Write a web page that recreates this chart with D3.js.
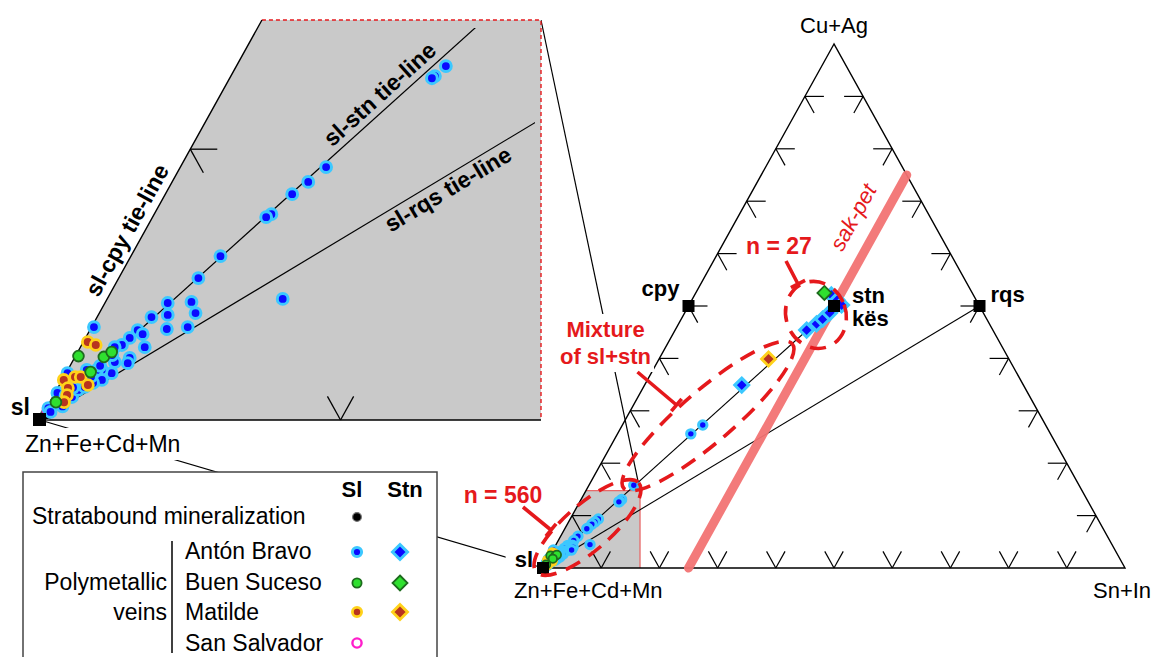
<!DOCTYPE html>
<html>
<head>
<meta charset="utf-8">
<script src="https://cdn.jsdelivr.net/npm/d3@7"></script>
<style>
  body { margin: 0; background: #fff; }
  svg { display: block; font-family: "Liberation Sans", Arial, sans-serif; }
</style>
</head>
<body>
<svg id="chart" width="1155" height="657"></svg>
<script>
// ---- Data: ternary compositions in percent, [Cu+Ag, Sn+In]; Zn+Fe+Cd+Mn is the remainder ----
const apexLabels = ["Cu+Ag", "Zn+Fe+Cd+Mn", "Sn+In"];
const tickValues = [10, 20, 30, 40, 50, 60, 70, 80, 90];

const endmembers = [
  { name: "sl",  cu: 0,  sn: 0 },
  { name: "cpy", cu: 50, sn: 0 },
  { name: "stn", cu: 50, sn: 25 },
  { name: "rqs", cu: 50, sn: 50 }
];

// sakuraiite–petrukite join (constant Sn+In = 25 %)
const sakPet = [[0, 25], [75, 25]];

// Zoomed window around sphalerite: Cu+Ag up to boxCu, horizontal extent up to boxH
const boxCu = 14.77;
const boxH = 16.67;

// Sphalerite analyses
const slAntonBravo = [
  [13.07, 6.97], [12.70, 6.79], [12.62, 6.73],
  [9.34, 4.85], [8.79, 4.53], [8.34, 4.22], [7.60, 3.90], [7.49, 3.78], [6.05, 2.98], [5.24, 2.65],
  [4.47, 5.84],
  [4.32, 2.09], [4.36, 2.86], [3.88, 2.31], [3.95, 3.20], [3.80, 1.81], [3.36, 2.54], [3.43, 3.20],
  [3.32, 1.59], [3.17, 1.83], [2.69, 2.14], [3.03, 1.47], [2.77, 1.34], [2.69, 1.14], [2.29, 1.84],
  [2.10, 1.87], [2.14, 1.42], [1.73, 1.52], [1.85, 1.13], [1.85, 0.97], [1.85, 0.63],
  [3.43, 0.08], [1.73, 0.05], [1.00, 0.08], [0.44, 0.06], [0.85, 0.64], [1.11, 0.71], [1.48, 1.32],
  [1.37, 1.08], [1.22, 0.88], [0.60, 0.30], [0.30, 0.20], [0.90, 0.40], [0.50, 0.50], [1.20, 0.50],
  [1.60, 0.90], [2.00, 1.00], [2.40, 1.20],
  [15.8, 7.7], [25.6, 12.6], [27.3, 13.8]
];
const slBuenSuceso = [[2.36, 0.10], [2.33, 0.96], [2.51, 1.13], [1.77, 0.80], [0.66, 0.20]];
const slMatilde = [
  [2.88, 0.15], [2.77, 0.47], [1.59, 0.37], [1.48, 0.05], [1.59, 0.56],
  [1.18, 0.34], [1.29, 0.95], [0.92, 0.44], [0.66, 0.47]
];
const slSanSalvador = [[0.35, 0.10]];
const slStratabound = [[0.20, 0.10]];

// Stannite analyses
const stnAntonBravo = [
  [34.9, 16.7], [45.4, 22.6], [46.6, 23.7], [47.5, 24.3], [48.7, 24.9],
  [52.1, 23.5], [51.1, 25.0], [50.2, 26.2]
];
const stnBuenSuceso = [[52.5, 22.1]];
const stnMatilde = [[39.9, 18.8]];

// ---- Marker styles ----
const styles = {
  strata:  { fill: "#000000", stroke: "#6a6a6a", sw: 1.4 },
  anton:   { fill: "#0a0aff", stroke: "#3cc8ff", sw: 3 },
  buen:    { fill: "#2fe02f", stroke: "#1d6b1d", sw: 1.8 },
  matilde: { fill: "#b8341f", stroke: "#ffd21a", sw: 2.8 },
  sanSal:  { fill: "#ffffff", stroke: "#ff1ecb", sw: 2.4 }
};
const RED = "#e5191c";

// ---- Scales: main triangle and zoomed inset ----
const hMain = d3.scaleLinear().domain([0, 100]).range([543, 1125]);
const aMain = d3.scaleLinear().domain([0, 100]).range([568, 44]);
const hIn = d3.scaleLinear().domain([0, boxH]).range([40, 541]);
const aIn = d3.scaleLinear().domain([0, boxCu]).range([420, 20]);
const projector = (hs, as) => (cu, sn) => [hs(sn + cu / 2), as(cu)];
const pMain = projector(hMain, aMain);
const pIn = projector(hIn, aIn);
const inBox = d => d[0] <= boxCu && d[1] + d[0] / 2 <= boxH;

const svg = d3.select("#chart");
const line = d3.line();

// ---- Connectors between the inset and the zoomed region ----
const gConn = svg.append("g").attr("stroke", "#000").attr("stroke-width", 1.2).attr("fill", "none");
gConn.append("path").attr("d", line([pIn(boxCu, boxH - boxCu / 2), pMain(boxCu, boxH - boxCu / 2)]));
gConn.append("path").attr("d", line([pIn(0, 0), pMain(0, 0)]));

// ---- Grey window: in the main triangle and enlarged in the inset ----
function windowPoly(p) {
  return [p(0, 0), p(boxCu, 0), p(boxCu, boxH - boxCu / 2), p(0, boxH)];
}
svg.append("path").attr("d", line(windowPoly(pMain)) + "Z").attr("fill", "#c9c9c9");
svg.append("path").attr("d", line([pMain(boxCu, 0), pMain(boxCu, boxH - boxCu / 2), pMain(0, boxH)]))
  .attr("fill", "none").attr("stroke", "#e86a6a").attr("stroke-width", 1.3);

const gInset = svg.append("g");
gInset.append("path").attr("d", line(windowPoly(pIn)) + "Z").attr("fill", "#c9c9c9");
gInset.append("path").attr("d", line([pIn(boxCu, 0), pIn(boxCu, boxH - boxCu / 2), pIn(0, boxH)]))
  .attr("fill", "none").attr("stroke", RED).attr("stroke-width", 1.4).attr("stroke-dasharray", "4,3");
gInset.append("path").attr("d", line([pIn(boxCu, 0), pIn(0, 0), pIn(0, boxH)]))
  .attr("fill", "none").attr("stroke", "#000").attr("stroke-width", 1.4);

// inset tie-lines, clipped a little inside the window
svg.append("clipPath").attr("id", "insetClip").append("rect")
  .attr("x", hIn(0) - 20).attr("y", aIn(boxCu) + 8)
  .attr("width", hIn(boxH) - hIn(0) + 14).attr("height", aIn(0) - aIn(boxCu) - 8 + 20);
const gInTie = gInset.append("g").attr("clip-path", "url(#insetClip)")
  .attr("stroke", "#000").attr("stroke-width", 1.2).attr("fill", "none");
endmembers.filter(e => e.name === "stn" || e.name === "rqs").forEach(e => {
  gInTie.append("path").attr("d", line([pIn(0, 0), pIn(e.cu, e.sn)]));
});

// ---- Main triangle ----
const gTri = svg.append("g").attr("fill", "none").attr("stroke", "#000");
gTri.append("path").attr("d", line([pMain(100, 0), pMain(0, 0), pMain(0, 100)]) + "Z").attr("stroke-width", 1.4);
endmembers.filter(e => e.name === "stn" || e.name === "rqs").forEach(e => {
  gTri.append("path").attr("d", line([pMain(0, 0), pMain(e.cu, e.sn)])).attr("stroke-width", 1.1);
});

// ternary ticks: two short arms pointing along the grid directions
function tickSegments(p, L, leftVals, rightVals, bottomVals) {
  const top = p(100, 0), bl = p(0, 0), br = p(0, 100);
  const unit = (a, b) => { const dx = b[0] - a[0], dy = b[1] - a[1], n = Math.hypot(dx, dy); return [dx / n, dy / n]; };
  const dR = unit(top, br), dL = unit(top, bl);
  const segs = [];
  leftVals.forEach(t => {
    const q = p(t, 0);
    segs.push([q, [q[0] + L, q[1]]], [q, [q[0] + dR[0] * L, q[1] + dR[1] * L]]);
  });
  rightVals.forEach(t => {
    const q = p(t, 100 - t);
    segs.push([q, [q[0] - L, q[1]]], [q, [q[0] + dL[0] * L, q[1] + dL[1] * L]]);
  });
  bottomVals.forEach(t => {
    const q = p(0, t);
    segs.push([q, [q[0] - dR[0] * L, q[1] - dR[1] * L]], [q, [q[0] - dL[0] * L, q[1] - dL[1] * L]]);
  });
  return segs;
}
gTri.selectAll("path.tick").data(tickSegments(pMain, 19, tickValues, tickValues, tickValues))
  .join("path").attr("class", "tick").attr("d", d => line(d)).attr("stroke-width", 1.2);
gInset.append("g").attr("stroke", "#000").attr("fill", "none").attr("stroke-width", 1.3)
  .selectAll("path").data(tickSegments(pIn, 27,
      tickValues.filter(t => t <= boxCu), [], tickValues.filter(t => t <= boxH)))
  .join("path").attr("d", d => line(d));

// ---- sak–pet join ----
svg.append("path").attr("d", line(sakPet.map(d => pMain(d[0], d[1]))))
  .attr("stroke", "#f27373").attr("stroke-width", 9).attr("stroke-linecap", "round")
  .attr("fill", "none").attr("opacity", 0.95);

// ---- Analyses ----
const diamond = s => `M0,${-s}L${s},0L0,${s}L${-s},0Z`;
function drawDots(g, data, st, p, r) {
  g.append("g").selectAll("circle").data(data).join("circle")
    .attr("cx", d => p(d[0], d[1])[0]).attr("cy", d => p(d[0], d[1])[1]).attr("r", r)
    .attr("fill", st.fill).attr("stroke", st.stroke).attr("stroke-width", st.sw);
}
function drawDiamonds(g, data, st, p, s) {
  g.append("g").selectAll("path").data(data).join("path")
    .attr("transform", d => `translate(${p(d[0], d[1])})`).attr("d", diamond(s))
    .attr("fill", st.fill).attr("stroke", st.stroke).attr("stroke-width", st.sw);
}
const slSeries = [
  [slStratabound, styles.strata], [slSanSalvador, styles.sanSal], [slAntonBravo, styles.anton],
  [slMatilde, styles.matilde], [slBuenSuceso, styles.buen]
];
const gPtsMain = svg.append("g");
slSeries.forEach(([data, st]) => drawDots(gPtsMain, data, st, pMain, 4.2));
drawDiamonds(gPtsMain, stnAntonBravo, styles.anton, pMain, 7);
drawDiamonds(gPtsMain, stnMatilde, styles.matilde, pMain, 7);
drawDiamonds(gPtsMain, stnBuenSuceso, styles.buen, pMain, 7);

const gPtsIn = svg.append("g");
slSeries.forEach(([data, st]) => drawDots(gPtsIn, data.filter(inBox), st, pIn, 5.4));

// ---- End-member squares ----
svg.append("g").selectAll("rect").data(endmembers).join("rect")
  .attr("x", d => pMain(d.cu, d.sn)[0] - 6).attr("y", d => pMain(d.cu, d.sn)[1] - 6)
  .attr("width", 12).attr("height", 12).attr("fill", "#000");
svg.append("rect").attr("x", pIn(0, 0)[0] - 7).attr("y", pIn(0, 0)[1] - 7)
  .attr("width", 13).attr("height", 13).attr("fill", "#000");

// ---- Text helpers ----
function txt(g, x, y, s, o = {}) {
  const t = g.append("text").attr("x", x).attr("y", y).text(s)
    .attr("font-size", o.size || 22).attr("fill", o.fill || "#000")
    .attr("text-anchor", o.anchor || "start");
  if (o.bold) t.attr("font-weight", "bold");
  if (o.italic) t.attr("font-style", "italic");
  if (o.rotate != null) t.attr("transform", `rotate(${o.rotate},${x},${y})`);
  return t;
}
function whiteBack(g, t, pad, topLimit, padRight) {
  const b = t.node().getBBox();
  let y0 = b.y - pad;
  if (topLimit != null) y0 = Math.max(y0, topLimit);
  const pr = padRight != null ? padRight : pad;
  g.insert("rect", () => t.node())
    .attr("x", b.x - pad).attr("y", y0).attr("width", b.width + pad + pr)
    .attr("height", b.y + b.height + pad - y0).attr("fill", "#fff");
}

const gLab = svg.append("g");
// main triangle labels
const [topX, topY] = pMain(100, 0);
txt(gLab, topX, topY - 11, apexLabels[0], { anchor: "middle" });
txt(gLab, pMain(0, 0)[0] - 29, pMain(0, 0)[1] + 30, apexLabels[1]);
txt(gLab, pMain(0, 100)[0] - 32, pMain(0, 100)[1] + 30, apexLabels[2]);
const slLab = txt(gLab, pMain(0, 0)[0] - 10, pMain(0, 0)[1] - 1, "sl", { bold: true, anchor: "end" });
whiteBack(gLab, slLab, 9, null, 1);
txt(gLab, pMain(50, 0)[0] - 9, pMain(50, 0)[1] - 10, "cpy", { bold: true, anchor: "end" });
txt(gLab, pMain(50, 25)[0] + 18, pMain(50, 25)[1] - 3, "stn", { bold: true });
txt(gLab, pMain(50, 25)[0] + 18, pMain(50, 25)[1] + 20, "kës", { bold: true });
txt(gLab, pMain(50, 50)[0] + 11, pMain(50, 50)[1] - 4, "rqs", { bold: true });

// inset labels
const [inX, inY] = pIn(0, 0);
txt(gLab, inX - 10, inY - 5, "sl", { bold: true, anchor: "end", size: 23 });
const inZn = txt(gLab, inX - 15, inY + 32, apexLabels[1], { size: 23 });
whiteBack(gLab, inZn, 3, inY + 1.5);

const angOf = (a, b) => Math.atan2(b[1] - a[1], b[0] - a[0]) * 180 / Math.PI;
const angCpy = angOf(pIn(0, 0), pIn(100, 0));
const angStn = angOf(pIn(0, 0), pIn(50, 25));
const angRqs = angOf(pIn(0, 0), pIn(50, 50));
txt(gLab, 134, 234, "sl-cpy tie-line", { bold: true, size: 23, anchor: "middle", rotate: angCpy });
txt(gLab, 385, 100, "sl-stn tie-line", { bold: true, size: 23, anchor: "middle", rotate: angStn });
txt(gLab, 452, 196, "sl-rqs tie-line", { bold: true, size: 23, anchor: "middle", rotate: angRqs });

// ---- Annotations: dashed groupings, pointers and notes ----
const gAnn = svg.append("g");
const groups = [
  { cu: 7.73, sn: 3.78, rx: 68, ry: 23, rot: -41 },
  { cu: 29.0, sn: 13.85, rx: 111, ry: 26, rot: -40.6 },
  { cu: 48.3, sn: 22.75, rx: 30, ry: 34, rot: -20 }
];
groups.forEach(g => {
  const c = pMain(g.cu, g.sn);
  gAnn.append("ellipse").attr("transform", `translate(${c}) rotate(${g.rot})`)
    .attr("rx", g.rx).attr("ry", g.ry).attr("fill", "none").attr("stroke", RED)
    .attr("stroke-width", 3.6).attr("stroke-dasharray", "16,10");
});

function pointer(anchor, from, to) {
  const a = pMain(anchor[0], anchor[1]);
  const p0 = [a[0] + from[0], a[1] + from[1]], p1 = [a[0] + to[0], a[1] + to[1]];
  const dx = p1[0] - p0[0], dy = p1[1] - p0[1], n = Math.hypot(dx, dy);
  const nx = -dy / n * 8, ny = dx / n * 8;
  gAnn.append("path").attr("d", line([p0, p1]) + "M" + [p1[0] + nx, p1[1] + ny] + "L" + [p1[0] - nx, p1[1] - ny])
    .attr("stroke", RED).attr("stroke-width", 3.6).attr("fill", "none");
}
// n = 560 (sphalerite cluster)
const aSl = pMain(0, 0);
txt(gAnn, aSl[0] - 40, aSl[1] - 65, "n = 560", { bold: true, anchor: "middle", fill: RED, size: 23 });
pointer([0, 0], [-20, -61], [8, -38]);
// mixture of sl + stn
const aCpy = pMain(50, 0);
const mix1 = txt(gAnn, aCpy[0] - 83, aCpy[1] + 31, "Mixture", { bold: true, anchor: "middle", fill: RED });
const mix2 = txt(gAnn, aCpy[0] - 83, aCpy[1] + 58, "of sl+stn", { bold: true, anchor: "middle", fill: RED });
whiteBack(gAnn, mix1, 3);
whiteBack(gAnn, mix2, 3);
pointer([50, 0], [-51, 66], [-12, 99]);
// n = 27 (stannite cluster)
const aStn = pMain(50, 25);
txt(gAnn, aStn[0] - 55, aStn[1] - 52, "n = 27", { bold: true, anchor: "middle", fill: RED, size: 23 });
pointer([50, 25], [-48, -45], [-36, -22]);
// sak-pet label along the join
const sp0 = pMain(sakPet[0][0], sakPet[0][1]), sp1 = pMain(sakPet[1][0], sakPet[1][1]);
txt(gAnn, sp1[0] - 47, sp1[1] + 46, "sak-pet",
  { italic: true, anchor: "middle", fill: RED, size: 22, rotate: angOf(sp0, sp1) });

// ---- Legend ----
const gLeg = svg.append("g");
gLeg.append("rect").attr("x", 23).attr("y", 472).attr("width", 414).attr("height", 200)
  .attr("fill", "#fff").attr("stroke", "#444").attr("stroke-width", 1.5);
txt(gLeg, 352, 497, "Sl", { bold: true, anchor: "middle", size: 22 });
txt(gLeg, 405, 497, "Stn", { bold: true, anchor: "middle", size: 22 });
txt(gLeg, 32, 524, "Stratabound mineralization", { size: 23 });
gLeg.append("circle").attr("cx", 357).attr("cy", 517).attr("r", 4.4)
  .attr("fill", "#000").attr("stroke", "#777").attr("stroke-width", 1.2);

const legendRows = [
  { name: "Antón Bravo",  sl: styles.anton,   stn: styles.anton,   y: 559, my: 552 },
  { name: "Buen Suceso",  sl: styles.buen,    stn: styles.buen,    y: 590, my: 583 },
  { name: "Matilde",      sl: styles.matilde, stn: styles.matilde, y: 620, my: 612 },
  { name: "San Salvador", sl: styles.sanSal,  stn: null,           y: 651, my: 643 }
];
legendRows.forEach(r => {
  txt(gLeg, 185, r.y, r.name, { size: 23 });
  gLeg.append("circle").attr("cx", 357).attr("cy", r.my).attr("r", 4.6)
    .attr("fill", r.sl.fill).attr("stroke", r.sl.stroke).attr("stroke-width", r.sl.sw);
  if (r.stn) {
    gLeg.append("path").attr("transform", `translate(400,${r.my})`).attr("d", diamond(7.5))
      .attr("fill", r.stn.fill).attr("stroke", r.stn.stroke).attr("stroke-width", r.stn.sw);
  }
});
txt(gLeg, 167, 590, "Polymetallic", { size: 23, anchor: "end" });
txt(gLeg, 167, 620, "veins", { size: 23, anchor: "end" });
gLeg.append("line").attr("x1", 172).attr("x2", 172).attr("y1", 541).attr("y2", 653)
  .attr("stroke", "#000").attr("stroke-width", 1.5);
</script>
</body>
</html>
